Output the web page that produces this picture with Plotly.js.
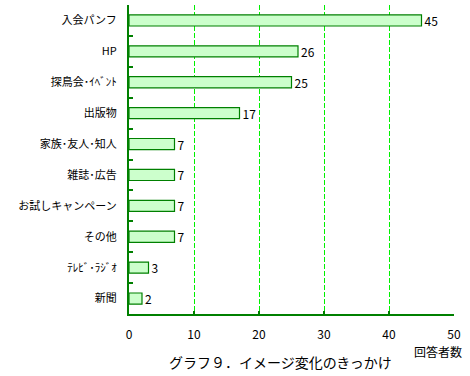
<!DOCTYPE html>
<html>
<head>
<meta charset="utf-8">
<script src="https://cdn.plot.ly/plotly-3.0.1.min.js"></script>
<style>html,body{margin:0;padding:0;background:#fff;}#chart{width:470px;height:376px;}</style>
</head>
<body>
<div id="chart"></div>
<script>
const categories = ["入会パンフ", "HP", "探鳥会･ｲﾍﾞﾝﾄ", "出版物", "家族･友人･知人", "雑誌･広告", "お試しキャンペーン", "その他", "ﾃﾚﾋﾞ･ﾗｼﾞｵ", "新聞"];
const counts = [45, 26, 25, 17, 7, 7, 7, 7, 3, 2];
const xTicks = [0, 10, 20, 30, 40, 50];
const chartTitle = "グラフ９．イメージ変化のきっかけ";
const xAxisTitle = "回答者数";

const FONT = "'MS Gothic','Noto Sans CJK JP', sans-serif";
const trace = {
  type: "bar",
  orientation: "h",
  y: categories,
  x: counts,
  text: counts.map(String),
  textposition: "outside",
  constraintext: "none",
  cliponaxis: false,
  textfont: {family: FONT, size: 12, color: "#000"},
  outsidetextfont: {family: FONT, size: 12, color: "#000"},
  marker: {color: "#ccffcc", line: {color: "#008000", width: 1.2}},
  hoverinfo: "none"
};
const layout = {
  width: 470, height: 376,
  margin: {l: 129, r: 16, t: 5, b: 62},
  paper_bgcolor: "#fff", plot_bgcolor: "#fff",
  showlegend: false,
  bargap: 0.64,
  font: {family: FONT, size: 11, color: "#000"},
  xaxis: {
    range: [0, 50], tickvals: xTicks, ticktext: xTicks.map(String),
    showgrid: true, gridcolor: "#00f000", griddash: "5px,2px", gridwidth: 1,
    zeroline: false,
    showline: true, linecolor: "#008000", linewidth: 2,
    ticks: "inside", ticklen: 3, tickwidth: 2, tickcolor: "#008000",
    tickfont: {family: FONT, size: 12, color: "#000"},
    ticklabelstandoff: 9,
    fixedrange: true
  },
  yaxis: {
    type: "category", autorange: false, range: [9.5, -0.5],
    showgrid: false, zeroline: false,
    showline: true, linecolor: "#008000", linewidth: 2,
    ticks: "inside", tickson: "boundaries", ticklen: 4, tickwidth: 2, tickcolor: "#008000",
    tickfont: {family: FONT, size: 11, color: "#000"},
    ticklabelstandoff: 8,
    fixedrange: true
  },
  annotations: [
    {text: xAxisTitle, xref: "paper", yref: "paper", x: 1.03, y: 0, yshift: -37, xanchor: "right", yanchor: "middle", showarrow: false, font: {family: FONT, size: 12, color: "#000"}},
    {text: chartTitle, xref: "paper", yref: "paper", x: 0.467, y: 0, yshift: -48, xanchor: "center", yanchor: "middle", showarrow: false, font: {family: FONT, size: 14, color: "#000"}}
  ]
};
Plotly.newPlot("chart", [trace], layout, {displayModeBar: false, staticPlot: true});
</script>
</body>
</html>
